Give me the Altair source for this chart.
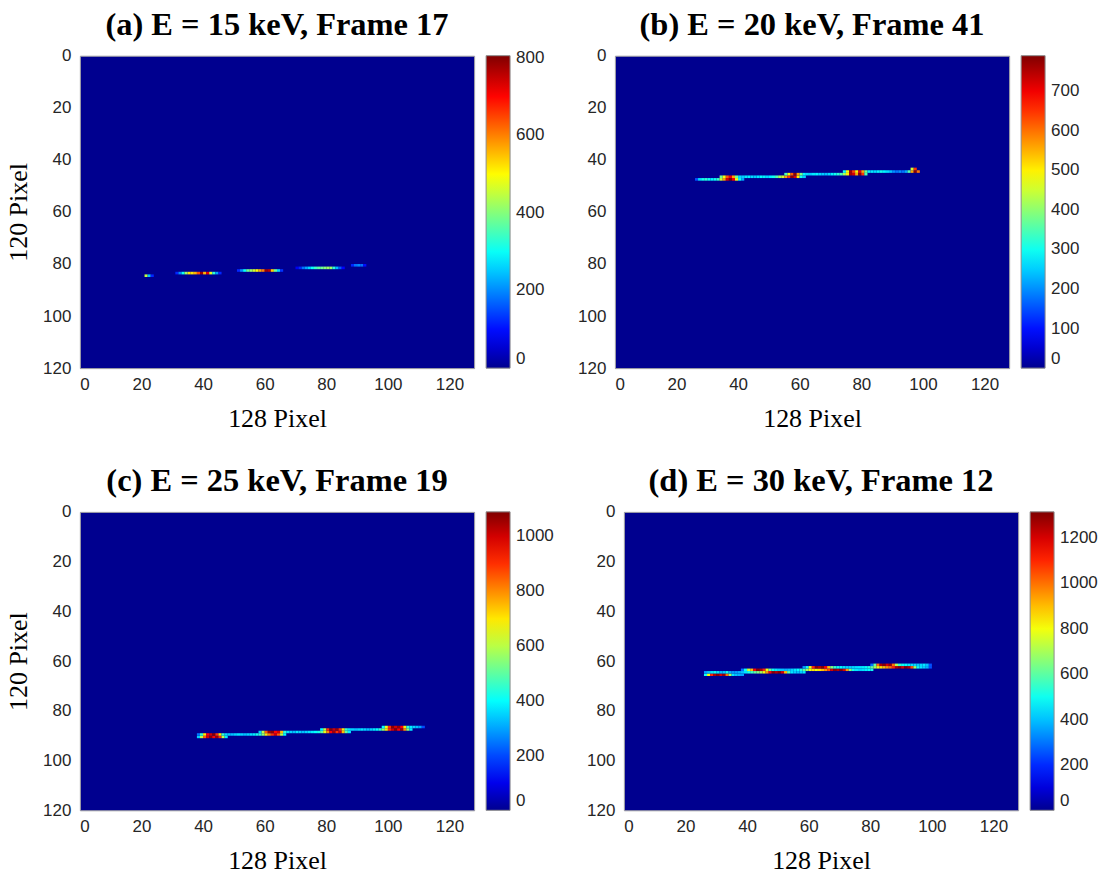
import altair as alt
import pandas as pd

TITLES = ["(a) E = 15 keV, Frame 17", "(b) E = 20 keV, Frame 41",
          "(c) E = 25 keV, Frame 19", "(d) E = 30 keV, Frame 12"]
CMAX = [805, 790, 1090, 1315]
LEGEND_TICKS = [[0, 200, 400, 600, 800],
                [0, 100, 200, 300, 400, 500, 600, 700],
                [0, 200, 400, 600, 800, 1000],
                [0, 200, 400, 600, 800, 1000, 1200]]
X_TICKS = [0, 20, 40, 60, 80, 100, 120]
Y_TICKS = [0, 20, 40, 60, 80, 100, 120]

# track pixels: (row, first column, values of consecutive columns)
A_TRACK = [
    (84, 21, [450, 250, 120]),
    (83, 31, [120, 200, 300, 420, 520, 520, 560, 640, 780, 560, 720, 480, 330, 220, 120]),
    (82, 51, [120, 200, 300, 380, 420, 460, 500, 560, 600, 780, 760, 540, 380, 260, 130]),
    (81, 70, [80, 120, 180, 220, 260, 300, 340, 370, 380, 400, 420, 420, 330, 240, 160, 90]),
    (80, 88, [120, 180, 200, 180, 100]),
]
B_TRACK = [
    (47, 26, [150, 260, 300, 320, 300, 280, 300, 330, 450, 560, 720, 790, 700, 480, 300, 220]),
    (46, 34, [380, 480, 620, 700, 560, 380, 260, 250, 270, 280, 260, 250, 270, 290, 280, 260,
              280, 300, 350, 420, 450, 560, 650, 780, 720, 500, 300, 250]),
    (45, 55, [350, 480, 620, 780, 560, 380, 280, 260, 250, 270, 280, 260, 250, 240, 260, 280,
              300, 320, 350, 420, 500, 760, 720, 560, 780, 650, 350]),
    (44, 74, [300, 480, 760, 640, 500, 700, 560, 380, 280, 270, 260, 280, 300, 280, 260, 240,
              200, 180, 200, 180, 220, 350, 560, 780, 600]),
    (43, 96, [450, 650]),
]
C_TRACK = [
    (90, 38, [350, 600, 850, 1000, 1080, 950, 1060, 900, 600, 380]),
    (89, 38, [250, 450, 700, 950, 1000, 1080, 900, 700, 450, 360, 340, 330, 350, 370, 350, 330,
              350, 370, 380, 420, 450, 550, 700, 800, 900, 1000, 850, 600, 400]),
    (88, 58, [350, 600, 850, 1050, 1080, 950, 1000, 750, 450, 370, 350, 330, 370, 350, 330, 350,
              370, 380, 400, 420, 500, 650, 800, 950, 1050, 900, 1000, 750, 500, 380]),
    (87, 78, [400, 600, 900, 1080, 1000, 1060, 900, 700, 450, 370, 350, 330, 350, 370, 350, 330,
              350, 380, 400, 450, 550, 700, 900, 1000, 1080, 950, 1050, 800, 550, 380]),
    (86, 98, [400, 650, 900, 1080, 1000, 1060, 950, 700, 450, 380, 350, 330, 300, 200]),
]
D_TRACK = [
    (65, 26, [500, 800, 1100, 1250, 1300, 1200, 1280, 1000, 700, 450, 400, 380, 350]),
    (64, 26, [350, 400, 450, 500, 450, 400, 420, 500, 380, 350, 360, 380, 400, 450, 500, 550,
              600, 650, 700, 800, 950, 1150, 1300, 1250, 1310, 1200, 900, 600, 450, 420, 400,
              420, 450]),
    (63, 38, [300, 500, 750, 900, 1150, 1300, 1250, 1100, 800, 600, 500, 450, 420, 400, 380,
              400, 420, 450, 480, 520, 600, 700, 800, 850, 800, 850, 900, 950, 1050, 1200, 1300,
              1250, 1310, 1200, 950, 650, 500, 450, 420, 440, 460, 480, 500]),
    (62, 58, [350, 500, 800, 1100, 1300, 1250, 1310, 1150, 900, 650, 550, 500, 480, 450, 420,
              420, 430, 440, 450, 460, 480, 520, 600, 700, 800, 850, 900, 950, 1000, 1100, 1250,
              1300, 1200, 1310, 1250, 1050, 700, 500, 450, 420, 380, 250]),
    (61, 80, [300, 600, 1000, 1250, 1300, 1200, 1280, 1000, 700, 550, 500, 480, 460, 440, 430,
              420, 430, 450, 400, 250]),
]
TRACKS = [A_TRACK, B_TRACK, C_TRACK, D_TRACK]

JET = ["#00008F", "#0000FF", "#00FFFF", "#FFFF00", "#FF0000", "#800000"]
JET_STOPS = [0, 0.111, 0.365, 0.619, 0.873, 1.0]

SERIF = "Liberation Serif"
SANS = "Liberation Sans"


def cells(track):
    out = []
    for r, x0, vals in track:
        for i, v in enumerate(vals):
            out.append({"x": x0 + i, "x2": x0 + i + 1, "y": r, "y2": r + 1, "v": v})
    return pd.DataFrame(out)


def panel(i, left, h):
    m = CMAX[i]
    dom = [m * s for s in JET_STOPS]
    cscale = alt.Scale(domain=dom, range=JET, interpolate="rgb")
    yaxis = alt.Axis(values=Y_TICKS, title="120 Pixel" if left else "",
                     titleFont=SERIF, titleFontSize=26, titleFontWeight="normal",
                     titleColor="black", titlePadding=11,
                     labelFont=SANS, labelFontSize=17, labelColor="#262626",
                     labelPadding=9, ticks=False, tickSize=0, domain=False, grid=False)
    xaxis = alt.Axis(values=X_TICKS, title="128 Pixel",
                     titleFont=SERIF, titleFontSize=26, titleFontWeight="normal",
                     titleColor="black", titlePadding=13,
                     labelFont=SANS, labelFontSize=17, labelColor="#262626",
                     labelPadding=8, ticks=False, tickSize=0, domain=False, grid=False)
    legend = alt.Legend(type="gradient", values=LEGEND_TICKS[i], format="d",
                        gradientLength=h, gradientThickness=24, direction="vertical",
                        labelFont=SANS, labelFontSize=17, labelColor="#262626",
                        labelBaseline="middle", labelOffset=6, offset=12, padding=0,
                        gradientStrokeColor="#8c8c8c", gradientStrokeWidth=1,
                        orient="right")
    return alt.Chart(cells(TRACKS[i]), title=alt.Title(
        TITLES[i], font=SERIF, fontSize=32.5, fontWeight="bold", color="black",
        offset=5, anchor="middle")).mark_rect().encode(
        x=alt.X("x:Q", scale=alt.Scale(domain=[0, 128], nice=False, zero=False), axis=xaxis),
        x2="x2:Q",
        y=alt.Y("y:Q", scale=alt.Scale(domain=[0, 120], reverse=True, nice=False, zero=False),
                axis=yaxis),
        y2="y2:Q",
        color=alt.Color("v:Q", scale=cscale, legend=legend, title=None),
    ).properties(width=395, height=h)


row1 = alt.hconcat(panel(0, True, 313), panel(1, False, 313), spacing=31).resolve_scale(
    color="independent")
row2 = alt.hconcat(panel(2, True, 299), panel(3, False, 299), spacing=31).resolve_scale(
    color="independent")

chart = alt.vconcat(row1, row2, spacing=33).resolve_scale(
    color="independent").properties(
    padding={"left": 5, "top": 8, "right": 2, "bottom": 0}, background="white"
).configure_view(fill="#00008F", stroke="#a6a6a6", strokeWidth=1)

chart.save("out.html", embed_options={"renderer": "svg", "actions": False})
